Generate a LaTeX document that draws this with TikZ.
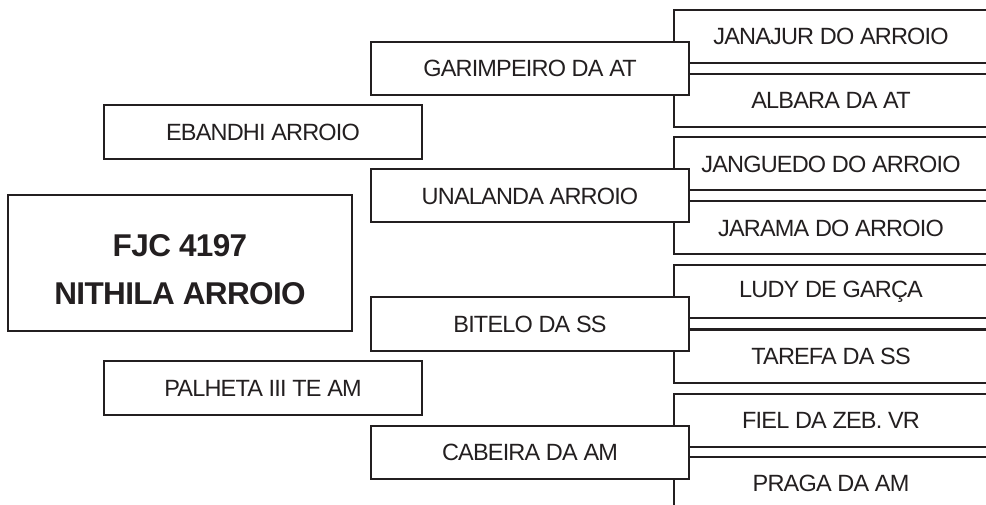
\documentclass[tikz,border=0pt]{standalone}
\usepackage{fontspec}
\setmainfont{Liberation Sans}
\newfontfamily\tightsans[LetterSpace=-3.5]{Liberation Sans}
\newfontfamily\tightbold[LetterSpace=-2,BoldFont={Liberation Sans Bold}]{Liberation Sans}
\definecolor{ink}{HTML}{231F20}
\begin{document}
\begin{tikzpicture}[x=1pt,y=-1pt,
  box/.style={draw=ink,line width=2pt,rectangle,inner sep=0pt,text=ink,
    font=\tightsans\fontsize{23.5}{26}\selectfont,fill=white},
  grand/.style={box,minimum width=314pt,minimum height=53pt},
  parent/.style={box,minimum width=318pt,minimum height=53pt},
  side/.style={box,minimum width=318pt,minimum height=54pt},
  mainbox/.style={box,minimum width=344pt,minimum height=136pt},
  maintext/.style={inner sep=0pt,align=center,text=ink,
    font=\tightbold\fontsize{31.5}{48}\bfseries\selectfont}]
\useasboundingbox (0,0) rectangle (986,505);
\clip (0,0) rectangle (986,505);
% great-grand generation (open at right)
\node[grand] (g1) at (831,36.5) {JANAJUR DO ARROIO};
\node[grand] (g2) at (831,100.5) {ALBARA DA AT};
\node[grand] (g3) at (831,164) {JANGUEDO DO ARROIO};
\node[grand] (g4) at (831,228) {JARAMA DO ARROIO};
\node[grand] (g5) at (831,292) {LUDY DE GARÇA};
\node[grand] (g6) at (831,356) {TAREFA DA SS};
\node[grand] (g7) at (831,420.5) {FIEL DA ZEB. VR};
\node[grand] (g8) at (831,483.5) {PRAGA DA AM};
% parents
\node[parent] (p1) at (530,68.5) {GARIMPEIRO DA AT};
\node[parent] (p2) at (530,196) {UNALANDA ARROIO};
\node[parent] (p3) at (530,324) {BITELO DA SS};
\node[parent] (p4) at (530,452) {CABEIRA DA AM};
% side boxes
\node[side] (s1) at (263,132) {EBANDHI ARROIO};
\node[side] (s2) at (263,388) {PALHETA III TE AM};
% main
\node[mainbox] (m) at (180,263) {};
\node[maintext] (mt) at ([yshift=-7pt]m.center) {FJC 4197\\NITHILA ARROIO};
\end{tikzpicture}
\end{document}
